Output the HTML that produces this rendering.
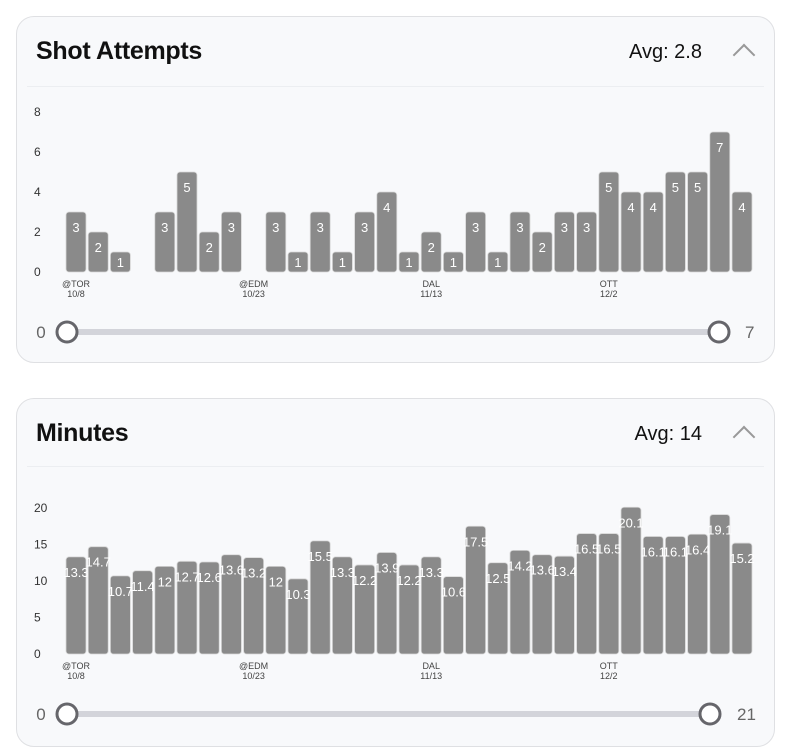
<!DOCTYPE html>
<html><head><meta charset="utf-8"><style>
body{margin:0;background:#fff;width:800px;height:754px;overflow:hidden;font-family:"Liberation Sans",sans-serif;}
.card{position:absolute;left:16px;width:757px;background:#f8f9fb;border:1.5px solid #dfe0e3;border-radius:18px;}
.title{position:absolute;left:19px;font-size:25px;font-weight:bold;color:#111;letter-spacing:-0.3px}
.avg{position:absolute;right:72px;font-size:20px;color:#111}
.chev{position:absolute;right:22px;width:14px;height:14px;border-left:2px solid #999;border-top:2px solid #999;transform:rotate(45deg)}
.div{position:absolute;left:10px;right:10px;height:1px;background:#eceef1}
svg{position:absolute;left:0;top:0}
</style></head><body>
<div class="card" style="top:16px;height:345px">
 <div class="title" style="top:20px">Shot Attempts</div>
 <div class="avg" style="top:24px">Avg: 2.8</div>
 <div class="chev" style="top:30px"></div>
 <div class="div" style="top:69px"></div>
</div>
<div class="card" style="top:398px;height:347px">
 <div class="title" style="top:20px">Minutes</div>
 <div class="avg" style="top:24px">Avg: 14</div>
 <div class="chev" style="top:30px"></div>
 <div class="div" style="top:67px"></div>
</div>
<svg id="s" width="800" height="754" xmlns="http://www.w3.org/2000/svg"></svg>
<script>
const shots=[3,2,1,null,3,5,2,3,null,3,1,3,1,3,4,1,2,1,3,1,3,2,3,3,5,4,4,5,5,7,4];
const minutes=[13.3,14.7,10.7,11.4,12,12.7,12.6,13.6,13.2,12,10.3,15.5,13.3,12.2,13.9,12.2,13.3,10.6,17.5,12.5,14.2,13.6,13.4,16.5,16.5,20.1,16.1,16.1,16.4,19.1,15.2];
const shotTicks=[0,2,4,6,8];
const minTicks=[0,5,10,15,20];
const xLabels=[[0,"@TOR","10/8"],[8,"@EDM","10/23"],[16,"DAL","11/13"],[24,"OTT","12/2"]];
const ranges=[[0,7],[0,21]];
const svg=document.getElementById('s');
const NS='http://www.w3.org/2000/svg';
function mk(t,a,txt){const e=document.createElementNS(NS,t);for(const k in a)e.setAttribute(k,a[k]);if(txt!=null)e.textContent=txt;svg.appendChild(e);return e;}
function chart(vals,ticks,max,y0,h,rng,sy,name,thumbR,lblX){
 const x=i=>66+i*22.2, y=v=>y0-v/max*h;
 ticks.forEach(t=>{const e=mk('text',{x:34,y:y(t)+4,'font-size':12,fill:'#333'},t);
 
 });
 vals.forEach((v,i)=>{if(v==null)return;
  const r=mk('rect',{x:x(i),y:y(v),width:20,height:y0-y(v),rx:3,fill:'#8a8a8a',stroke:'#d8d8d8','stroke-width':0.8});
  
  
  const t=mk('text',{x:x(i)+10,y:y(v)+Math.min(20,(y0-y(v))/2+5),'text-anchor':'middle','font-size':13,fill:'#fff'},v);
  
  });
 xLabels.forEach(([i,a,b])=>{
  const t1=mk('text',{x:x(i)+10,y:y0+15,'text-anchor':'middle','font-size':9,fill:'#444'},a);
  
  
  const t2=mk('text',{x:x(i)+10,y:y0+25,'text-anchor':'middle','font-size':9,fill:'#444'},b);
  
  });
 const tr=mk('rect',{x:67,y:sy-3,width:thumbR-67,height:6,rx:3,fill:'#d3d4da'});
 
 
 [67,thumbR].forEach((cx,k)=>{const c=mk('circle',{cx:cx,cy:sy,r:10,fill:'#fff',stroke:'#66666b','stroke-width':3});
  
  });
 const l=mk('text',{x:41,y:sy+6,'text-anchor':'middle','font-size':17,fill:'#666'},rng[0]);
 
 
 const r=mk('text',{x:lblX,y:sy+6,'font-size':17,fill:'#666'},rng[1]);
 
 
}
chart(shots,shotTicks,8,272,160,ranges[0],332,'shots',719,745);
chart(minutes,minTicks,20,654,146,ranges[1],714,'minutes',710,737);
</script>
</body></html>
